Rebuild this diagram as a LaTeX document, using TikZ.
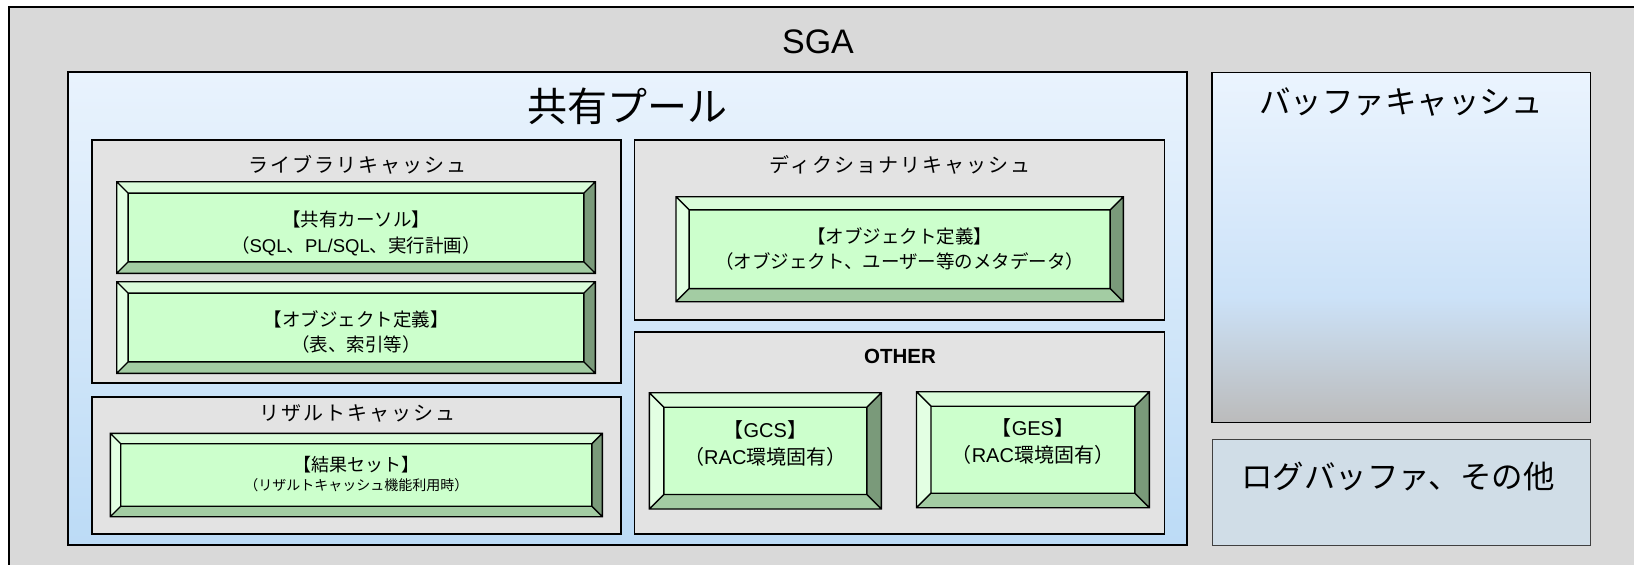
\documentclass[tikz,border=0pt]{standalone}
\usepackage{fontspec}
\setmainfont{Noto Sans CJK JP}
\newfontfamily\arialf{Liberation Sans}
\usetikzlibrary{calc}
\definecolor{sgagray}{HTML}{D9D9D9}
\definecolor{panelgray}{HTML}{E3E3E3}
\definecolor{pooltop}{HTML}{E9F3FD}
\definecolor{poolbot}{HTML}{BCDBF6}
\definecolor{buftop}{HTML}{EBF4FE}
\definecolor{bufmid}{HTML}{CCE2F8}
\definecolor{bufbot}{HTML}{BBBBBB}
\definecolor{logfill}{HTML}{D0DDE7}
\definecolor{bvface}{HTML}{CCFFCC}
\definecolor{bvtop}{HTML}{DAFCDA}
\definecolor{bvleft}{HTML}{E3FFE3}
\definecolor{bvbottom}{HTML}{A3CCA3}
\definecolor{bvright}{HTML}{7A9A7A}
\pgfdeclareverticalshading{bufshade}{100bp}{color(0bp)=(bufbot); color(25bp)=(bufbot); color(43bp)=(bufmid); color(75bp)=(buftop); color(100bp)=(buftop)}
\newcommand\lat[1]{{\arialf #1}}
\tikzset{
  boxbase/.style={anchor=north west, inner sep=0pt, outer sep=0pt},
  sgabox/.style={boxbase, draw=black, line width=1.3pt, fill=sgagray},
  poolbox/.style={boxbase, draw=black, line width=1.3pt, top color=pooltop, bottom color=poolbot},
  panel/.style={boxbase, draw=black, line width=1.3pt, fill=panelgray},
  bufbox/.style={boxbase, draw=black, line width=1.3pt, shading=bufshade},
  logbox/.style={boxbase, draw=black!75, line width=1pt, fill=logfill},
  bevelline/.style={draw=black, line width=1.4pt, line join=miter},
  beveltext/.style={align=center, inner sep=0pt, font=\fontsize{18.5}{25.5}\selectfont},
  paneltitle/.style={inner sep=0pt, font=\fontsize{20}{24}\selectfont\addfontfeature{LetterSpace=10}},
  bigtitle/.style={inner sep=0pt, font=\fontsize{31.5}{36}\selectfont},
}
% box node: style, name, x1, y1, x2, y2
\newcommand\boxnode[6]{%
  \node[#1, minimum width={(#5-#3)*1pt}, minimum height={(#6-#4)*1pt}] (#2) at (#3,#4) {};}
% bevel: name, x1, y1, x2, y2, text centre y, text
\newcommand\bevelbox[7]{%
  \pgfmathsetmacro\bvw{0.125*min(#4-#2,#5-#3)}%
  \coordinate (#1-A) at (#2,#3);
  \coordinate (#1-B) at (#4,#3);
  \coordinate (#1-C) at (#4,#5);
  \coordinate (#1-D) at (#2,#5);
  \coordinate (#1-a) at ($(#1-A)+(\bvw,\bvw)$);
  \coordinate (#1-b) at ($(#1-B)+(-\bvw,\bvw)$);
  \coordinate (#1-c) at ($(#1-C)+(-\bvw,-\bvw)$);
  \coordinate (#1-d) at ($(#1-D)+(\bvw,-\bvw)$);
  \fill[bvtop] (#1-A) -- (#1-B) -- (#1-b) -- (#1-a) -- cycle;
  \fill[bvright] (#1-B) -- (#1-C) -- (#1-c) -- (#1-b) -- cycle;
  \fill[bvbottom] (#1-D) -- (#1-C) -- (#1-c) -- (#1-d) -- cycle;
  \fill[bvleft] (#1-A) -- (#1-D) -- (#1-d) -- (#1-a) -- cycle;
  \fill[bvface] (#1-a) rectangle (#1-c);
  \draw[bevelline] (#1-A) rectangle (#1-C) (#1-a) rectangle (#1-c)
     (#1-A) -- (#1-a) (#1-B) -- (#1-b) (#1-C) -- (#1-c) (#1-D) -- (#1-d);
  \node[beveltext] (#1) at ({(#2+#4)/2},#6) {#7};}
\begin{document}
\begin{tikzpicture}[x=1pt,y=-1pt]
\useasboundingbox (0,0) rectangle (1634,565);
\clip (0,0) rectangle (1634,565);
\fill[white] (0,0) rectangle (1634,565);
% SGA
\boxnode{sgabox}{sga}{9}{7}{1660}{590}
\node[inner sep=0pt, font=\arialf\fontsize{34}{40}\selectfont] (sgat) at (818,42) {SGA};
% shared pool
\boxnode{poolbox}{pool}{68}{72}{1187}{545}
\node[inner sep=0pt, font=\fontsize{40}{46}\selectfont] (poolt) at (627.5,106) {共有プール};
% library cache
\boxnode{panel}{lib}{92}{140}{621}{383}
\node[paneltitle] (libt) at (357,165) {ライブラリキャッシュ};
\bevelbox{cur}{116.7}{181.7}{595.3}{273.3}{233.5}{【共有カーソル】\\（\lat{SQL}、\lat{PL/SQL}、実行計画）}
\bevelbox{obj}{116.7}{281.7}{595.3}{373.3}{332}{【オブジェクト定義】\\（表、索引等）}
% result cache
\boxnode{panel}{res}{92}{397}{621}{534}
\node[paneltitle] (rest) at (357,413.5) {リザルトキャッシュ};
\begin{scope}[beveltext/.append style={font=\fontsize{14}{19.5}\selectfont}]
\bevelbox{rset}{110.3}{433.3}{602.3}{516.7}{474}{{\fontsize{18}{19.5}\selectfont 【結果セット】}\\（リザルトキャッシュ機能利用時）}
\end{scope}
% dictionary cache
\boxnode{panel}{dict}{634.7}{140}{1164.3}{320}
\node[paneltitle] (dictt) at (900,165) {ディクショナリキャッシュ};
\bevelbox{dobj}{676}{196.7}{1123.3}{301.7}{249.2}{【オブジェクト定義】\\（オブジェクト、ユーザー等のメタデータ）}
% other
\boxnode{panel}{oth}{634.7}{332}{1164.3}{534}
\node[inner sep=0pt, font=\arialf\bfseries\fontsize{20.5}{24}\selectfont] (otht) at (900,356) {OTHER};
\begin{scope}[beveltext/.append style={font=\fontsize{20}{27.5}\selectfont}]
\bevelbox{gcs}{649.3}{392.7}{881.4}{509}{443.5}{【\lat{GCS}】\\（\lat{RAC}環境固有）}
\bevelbox{ges}{916.5}{391.7}{1149.3}{507.7}{441.7}{【\lat{GES}】\\（\lat{RAC}環境固有）}
\end{scope}
% buffer cache
\boxnode{bufbox}{buf}{1212}{72.7}{1590.7}{422.3}
\node[bigtitle] (buft) at (1401,102) {バッファキャッシュ};
% log buffer
\boxnode{logbox}{log}{1212}{439}{1590.7}{545}
\node[bigtitle] (logt) at (1398,477) {ログバッファ、その他};
\end{tikzpicture}
\end{document}
